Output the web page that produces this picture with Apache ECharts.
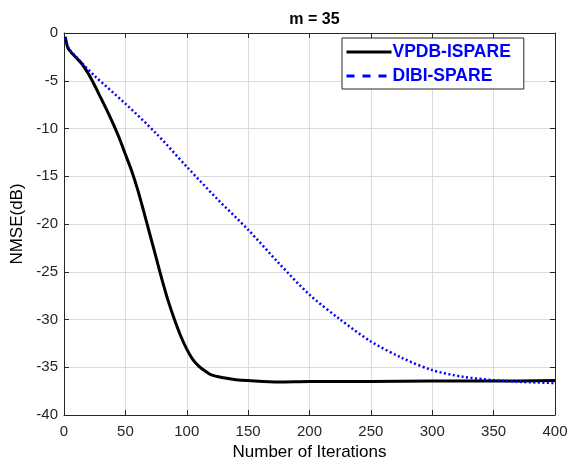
<!DOCTYPE html>
<html>
<head>
<meta charset="utf-8">
<script src="https://cdn.jsdelivr.net/npm/echarts@6/dist/echarts.min.js"></script>
<style>html,body{margin:0;padding:0;background:#fff;}#c{width:573px;height:466px;}</style>
</head>
<body>
<div id="c"></div>
<script>
var titleText = 'm = 35';
var xName = 'Number of Iterations';
var yName = 'NMSE(dB)';
var seriesNames = ['VPDB-ISPARE', 'DIBI-SPARE'];

var iterA = [1,2,3,5,10,15,20,25,30,35,40,45,50,55,60,65,70,75,80,85,90,95,100,105,110,115,120,130,140,150,175,200,250,300,350,400];
var nmseA = [-0.4,-1.0,-1.5,-1.9,-2.6,-3.3,-4.3,-5.5,-6.8,-8.1,-9.5,-11.0,-12.7,-14.4,-16.4,-18.7,-21.1,-23.5,-25.9,-28.1,-30.0,-31.7,-33.1,-34.2,-34.9,-35.4,-35.8,-36.1,-36.3,-36.4,-36.55,-36.5,-36.5,-36.45,-36.45,-36.4];

var iterB = [1,2,5,10,15,25,50,75,100,125,150,175,200,225,250,275,300,325,350,375,400];
var nmseB = [-0.5,-1.1,-1.8,-2.5,-3.2,-4.5,-7.4,-10.5,-14.0,-17.4,-20.6,-24.1,-27.4,-30.0,-32.3,-34.0,-35.3,-36.0,-36.35,-36.55,-36.65];

var xTicks = {min: 0, max: 400, interval: 50};
var yTicks = {min: -40, max: 0, interval: 5};

function pairs(xs, ys){ return xs.map(function(x,i){ return [x, ys[i]]; }); }

var FONT = '"Liberation Sans", Arial, Helvetica, sans-serif';
var AX = '#262626';
var GRID = '#dcdcdc';

var chart = echarts.init(document.getElementById('c'), null, {renderer: 'canvas'});
function axisCommon(pos, showLabel){
  return {
    type: 'value', position: pos,
    axisLine: {show: true, onZero: false, lineStyle: {color: AX, width: 1}},
    axisTick: {show: true, inside: true, length: 5, lineStyle: {color: AX, width: 1}},
    axisLabel: {show: showLabel, color: AX, fontSize: 15, fontFamily: FONT},
    splitLine: {show: showLabel, lineStyle: {color: GRID, width: 1}}
  };
}
var x0 = Object.assign(axisCommon('bottom', true), xTicks, {
  name: xName, nameLocation: 'middle', nameGap: 29,
  nameTextStyle: {color: '#000', fontSize: 17, fontFamily: FONT}
});
x0.axisLabel.margin = 9;
var x1 = Object.assign(axisCommon('top', false), xTicks);
var y0 = Object.assign(axisCommon('left', true), yTicks, {
  name: yName, nameLocation: 'middle', nameGap: 35,
  nameTextStyle: {color: '#000', fontSize: 17, fontFamily: FONT}
});
y0.axisLabel.margin = 6;
var y1 = Object.assign(axisCommon('right', false), yTicks);

chart.setOption({
  animation: false,
  backgroundColor: '#fff',
  title: {
    text: titleText, left: 309.5, top: 7, textAlign: 'center',
    textStyle: {fontSize: 16, fontWeight: 'bold', color: '#000', fontFamily: FONT}
  },
  grid: {left: 64, top: 33, width: 491, height: 384, containLabel: false},
  xAxis: [x0, x1],
  yAxis: [y0, y1],
  legend: {
    orient: 'vertical', left: 342, top: 38,
    padding: [5, 13, 4, 3], itemGap: 6,
    itemWidth: 45, itemHeight: 16,
    backgroundColor: '#fff', borderColor: AX, borderWidth: 1,
    textStyle: {color: '#0000ff', fontSize: 17.5, fontWeight: 'bold', fontFamily: FONT, padding: [0,0,0,-4]},
    data: [
      {name: seriesNames[0], itemStyle: {opacity: 0}, lineStyle: {color: '#000', width: 3, type: 'solid'}},
      {name: seriesNames[1], itemStyle: {opacity: 0}, lineStyle: {color: '#0000ff', width: 3, type: [8, 8]}}
    ]
  },
  series: [
    {
      name: seriesNames[0], type: 'line', data: pairs(iterA, nmseA),
      smooth: 0.3, symbol: 'none', showSymbol: false,
      lineStyle: {color: '#000', width: 3}, itemStyle: {color: '#000'}, z: 3
    },
    {
      name: seriesNames[1], type: 'line', data: pairs(iterB, nmseB),
      smooth: 0.3, symbol: 'none', showSymbol: false,
      lineStyle: {color: '#0000ff', width: 2.5, type: [2, 2.5]}, itemStyle: {color: '#0000ff'}, z: 4
    }
  ]
});
</script>
</body>
</html>
